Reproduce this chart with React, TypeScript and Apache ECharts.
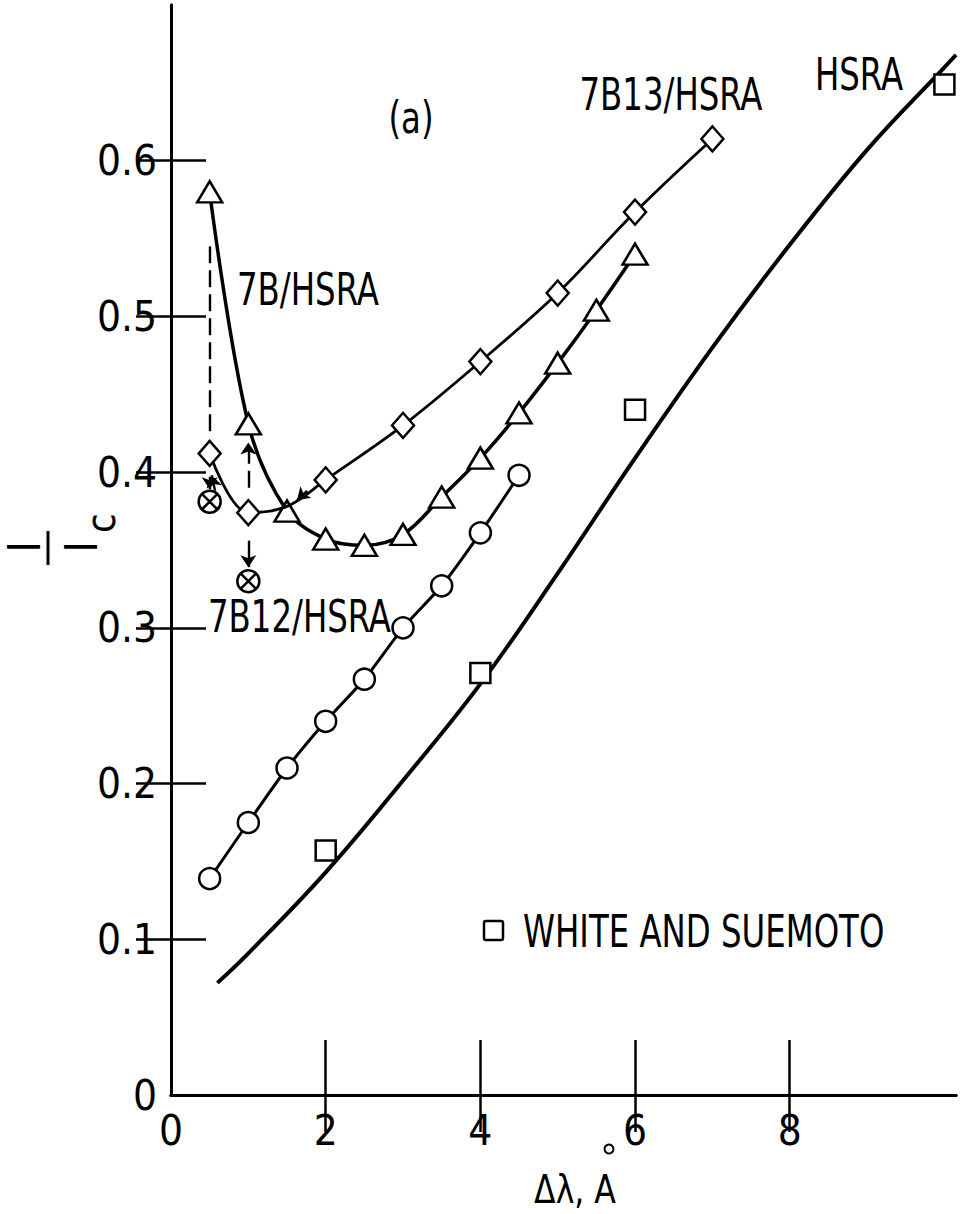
import React, { useEffect, useRef } from "react";
import * as echarts from "echarts";

const FONT =
  "'Liberation Sans Narrow', 'DejaVu Sans Condensed', 'Roboto Condensed', 'Arial Narrow', 'Liberation Sans', sans-serif";

// axis ticks / labels
const xTickValues = [2, 4, 6, 8];
const xLabelValues = [0, 2, 4, 6, 8];
const yTickValues = [0.1, 0.2, 0.3, 0.4, 0.5, 0.6];
const yLabelValues = [0, 0.1, 0.2, 0.3, 0.4, 0.5, 0.6];

// HSRA model curve
const hsraX = [0.6, 1, 2, 3, 4, 5, 6, 7, 8, 9, 10, 10.15];
const hsraY = [0.072, 0.091, 0.143, 0.202, 0.264, 0.335, 0.409, 0.48, 0.546, 0.607, 0.66, 0.668];

// open circles
const circX = [0.5, 1, 1.5, 2, 2.5, 3, 3.5, 4, 4.5];
const circY = [0.139, 0.175, 0.21, 0.24, 0.267, 0.3, 0.327, 0.361, 0.398];

// 7B/HSRA triangles
const triX = [0.5, 1, 1.5, 2, 2.5, 3, 3.5, 4, 4.5, 5, 5.5, 6];
const triY = [0.58, 0.431, 0.375, 0.357, 0.353, 0.36, 0.384, 0.409, 0.438, 0.47, 0.504, 0.54];

// 7B12/HSRA + 7B13/HSRA diamonds (1.5 is a pass-through point without marker)
const diaX = [0.5, 1, 1.5, 2, 3, 4, 5, 6, 7];
const diaY = [0.412, 0.374, 0.378, 0.395, 0.43, 0.471, 0.515, 0.567, 0.614];
const diaMarked = [true, true, false, true, true, true, true, true, true];

// crossed circles
const xcX = [0.5, 1];
const xcY = [0.381, 0.33];

// White and Suemoto squares
const sqX = [2, 4, 6, 10];
const sqY = [0.157, 0.271, 0.44, 0.649];

// guide lines / arrows
const guideX1 = [0.5, 0.5, 1, 1, 0.57, 1.76];
const guideY1 = [0.545, 0.397, 0.39, 0.356, 0.388, 0.388];
const guideX2 = [0.5, 0.5, 1, 1, 0.525, 1.63];
const guideY2 = [0.424, 0.389, 0.419, 0.339, 0.398, 0.382];
const guideDashed = [true, false, true, false, false, false];
const guideArrow = [false, true, true, true, true, true];

const zip = (xs: number[], ys: number[]) => xs.map((x, i) => [x, ys[i]]);

const XC_PATH =
  "path://M10,0A10,10,0,1,1,10,20A10,10,0,1,1,10,0ZM2.93,2.93L17.07,17.07M17.07,2.93L2.93,17.07";

const markerStyle = { color: "#fff", borderColor: "#000", borderWidth: 2.5, opacity: 1 };

const txt = (text: string, x: number, y: number, size: number, align = "center", sx = 0.8) => ({
  type: "text",
  x,
  y,
  scaleX: sx,
  silent: true,
  style: {
    text,
    fill: "#000",
    fontSize: size,
    fontFamily: FONT,
    align,
    verticalAlign: "middle",
    textAlign: align,
    textVerticalAlign: "middle",
  },
});

export default function App() {
  const ref = useRef<HTMLDivElement>(null);
  useEffect(() => {
    const chart = echarts.init(ref.current!, null, { renderer: "svg" });
    const axisLine = { show: true, lineStyle: { color: "#000", width: 3 } };
    const option: any = {
      animation: false,
      backgroundColor: "#fff",
      grid: { left: 171, top: 5, width: 785, height: 1090, containLabel: false },
      xAxis: [
        {
          type: "value",
          min: 0,
          max: 10.15,
          position: "bottom",
          axisLine,
          axisTick: { inside: true, length: 55, customValues: xTickValues, lineStyle: { color: "#000", width: 2.5 } },
          axisLabel: {
            customValues: xLabelValues,
            color: "#000",
            fontSize: 42,
            fontFamily: FONT,
            margin: 14,
            formatter: (v: number) => String(v),
          },
          splitLine: { show: false },
        },
        {
          type: "value",
          min: 0,
          max: 10.15,
          position: "top",
          axisLine,
          axisTick: { inside: true, length: 37, customValues: xTickValues, lineStyle: { color: "#000", width: 2.5 } },
          axisLabel: { show: false },
          splitLine: { show: false },
        },
      ],
      yAxis: [
        {
          type: "value",
          min: 0,
          max: 0.7,
          interval: 0.1,
          position: "left",
          axisLine,
          axisTick: { inside: true, length: 35, customValues: yTickValues, lineStyle: { color: "#000", width: 2.5 } },
          axisLabel: {
            customValues: yLabelValues,
            color: "#000",
            fontSize: 42,
            fontFamily: FONT,
            margin: 14,
            formatter: (v: number) => (v === 0 ? "0" : v.toFixed(1)),
          },
          splitLine: { show: false },
        },
        {
          type: "value",
          min: 0,
          max: 0.7,
          interval: 0.1,
          position: "right",
          axisLine,
          axisTick: { inside: true, length: 35, customValues: yTickValues, lineStyle: { color: "#000", width: 2.5 } },
          axisLabel: { show: false },
          splitLine: { show: false },
        },
      ],
      series: [
        {
          name: "HSRA",
          type: "line",
          smooth: 0.4,
          symbol: "none",
          data: zip(hsraX, hsraY),
          lineStyle: { color: "#000", width: 4 },
          z: 2,
        },
        {
          name: "circles",
          type: "line",
          smooth: 0.2,
          symbol: "circle",
          symbolSize: 21,
          data: zip(circX, circY),
          lineStyle: { color: "#000", width: 3 },
          itemStyle: markerStyle,
          z: 3,
        },
        {
          name: "7B/HSRA",
          type: "line",
          smooth: 0.35,
          symbol: "triangle",
          symbolSize: [25, 21],
          data: zip(triX, triY),
          lineStyle: { color: "#000", width: 3.5 },
          itemStyle: markerStyle,
          z: 3,
        },
        {
          name: "7B13/HSRA",
          type: "line",
          smooth: 0.35,
          symbol: "diamond",
          symbolSize: [22, 25],
          data: diaX.map((x, i) =>
            diaMarked[i] ? { value: [x, diaY[i]] } : { value: [x, diaY[i]], symbol: "none" }
          ),
          lineStyle: { color: "#000", width: 2.8 },
          itemStyle: markerStyle,
          z: 4,
        },
        {
          name: "crossed",
          type: "scatter",
          symbol: XC_PATH,
          symbolSize: 22,
          data: zip(xcX, xcY),
          itemStyle: markerStyle,
          z: 4,
          markLine: {
            silent: true,
            animation: false,
            label: { show: false },
            symbolSize: 12,
            lineStyle: { color: "#000", width: 2.2, type: "solid" },
            data: guideX1.map((x, i) => [
              {
                coord: [x, guideY1[i]],
                symbol: "none",
                lineStyle: { color: "#000", width: 2.4, type: guideDashed[i] ? [17, 7] : "solid" },
              },
              { coord: [guideX2[i], guideY2[i]], symbol: guideArrow[i] ? "arrow" : "none" },
            ]),
          },
        },
        {
          name: "WHITE AND SUEMOTO",
          type: "scatter",
          symbol: "rect",
          symbolSize: 20,
          data: zip(sqX, sqY),
          itemStyle: markerStyle,
          z: 4,
        },
      ],
      graphic: [
        txt("(a)", 411, 118, 45),
        txt("7B13/HSRA", 671, 95, 45),
        txt("HSRA", 859, 75, 45),
        txt("7B/HSRA", 237, 290, 45, "left"),
        txt("7B12/HSRA", 208, 617, 45, "left"),
        // legend (White and Suemoto)
        {
          type: "rect",
          silent: true,
          shape: { x: 484, y: 921, width: 19, height: 19, r: 2 },
          style: { fill: "#fff", stroke: "#000", lineWidth: 2.5 },
        },
        txt("WHITE AND SUEMOTO", 523, 932, 45, "left"),
        // x axis name
        txt("Δλ, A", 575, 1190, 39, "center", 0.9),
        { type: "circle", silent: true, shape: { cx: 609, cy: 1149, r: 4.5 }, style: { fill: "none", stroke: "#000", lineWidth: 2 } },
        // y axis name I / I_c
        { ...txt("I", 24, 547, 44, "center", 1), rotation: Math.PI / 2 },
        { type: "line", silent: true, shape: { x1: 48, y1: 531, x2: 48, y2: 565 }, style: { stroke: "#000", lineWidth: 3 } },
        { ...txt("I", 81, 547, 44, "center", 1), rotation: Math.PI / 2 },
        { ...txt("c", 101, 523, 40, "center", 1), rotation: Math.PI / 2 },
      ],
    };
    chart.setOption(option);
    return () => chart.dispose();
  }, []);
  return (
    <div
      ref={ref}
      style={{ position: "absolute", left: 0, top: 0, width: 961, height: 1214 }}
    />
  );
}
